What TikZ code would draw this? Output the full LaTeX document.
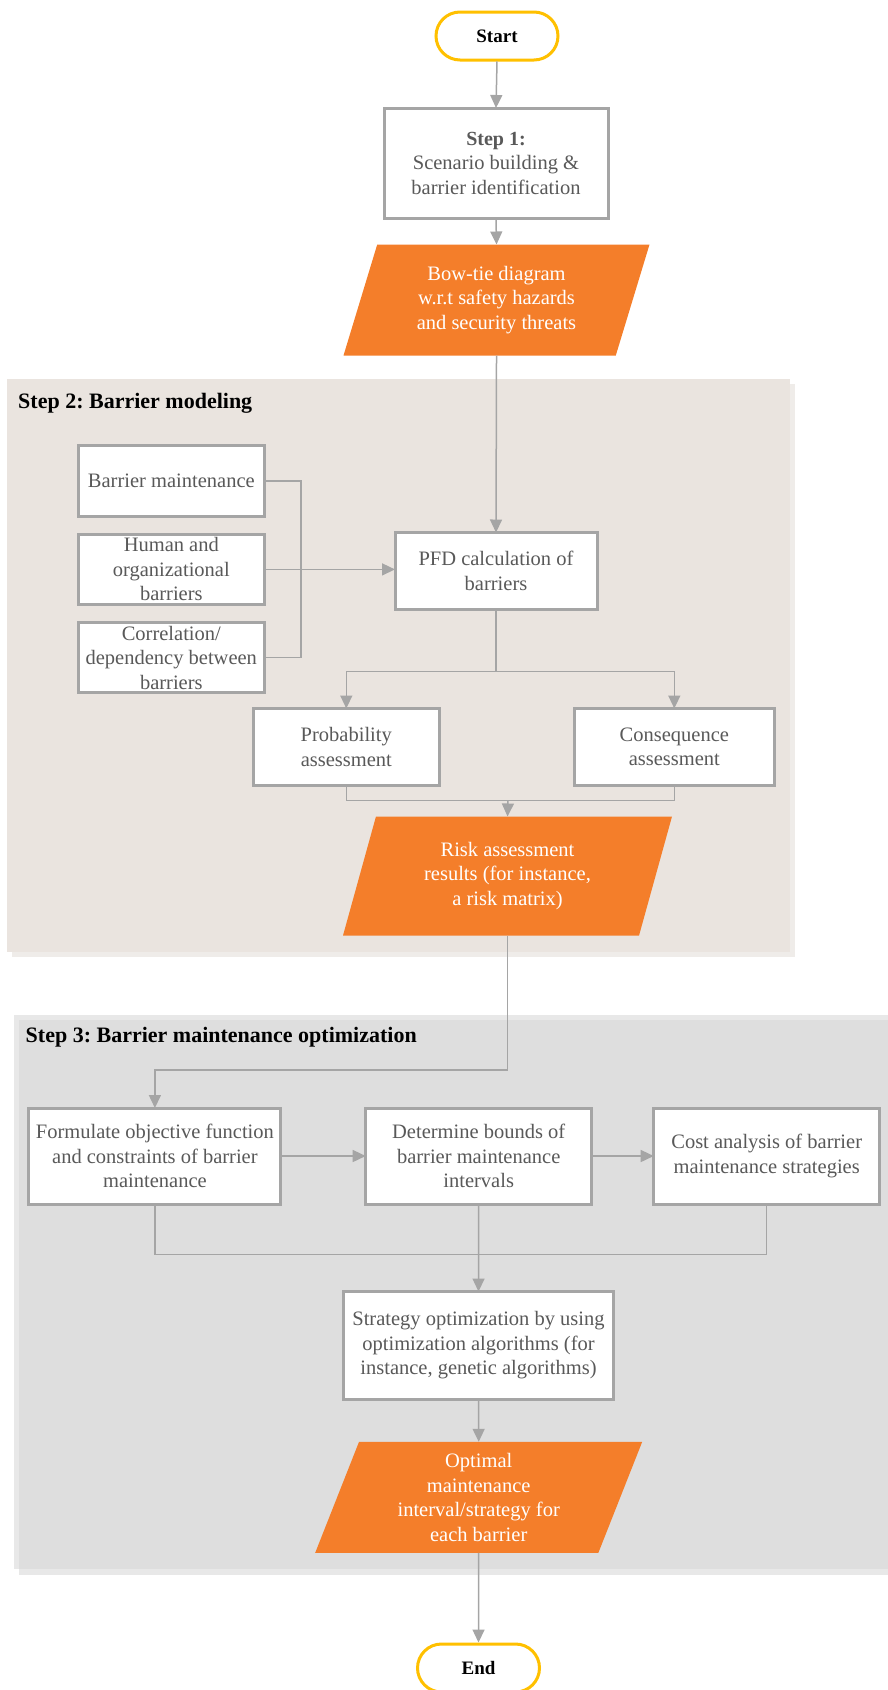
\documentclass[tikz,border=0pt]{standalone}
\usepackage{fontspec}
\setmainfont{Liberation Serif}
\usetikzlibrary{arrows.meta,shapes.geometric,calc}
\definecolor{boxgray}{HTML}{A5A5A5}
\definecolor{txtgray}{HTML}{595959}
\definecolor{orng}{HTML}{F47E2A}
\definecolor{gold}{HTML}{FFC000}
\definecolor{panelA}{HTML}{EAE4DF}
\definecolor{shadowA}{HTML}{EFECE9}
\definecolor{panelB}{HTML}{DEDEDE}
\definecolor{frameB}{HTML}{E8E8E8}
\frenchspacing
\tikzset{
  txt/.style={font=\fontsize{20.5}{24.5}\selectfont},
  proc/.style={txt, draw=boxgray, line width=3pt, fill=white, text=txtgray, align=center, inner sep=0pt, outer sep=0pt},
  term/.style={draw=gold, line width=3pt, fill=white, rounded corners=24pt, minimum width=122pt, minimum height=48pt, font=\fontsize{19}{22}\selectfont\bfseries, inner sep=0pt},
  datap/.style={txt, trapezium, trapezium left angle=63.5, trapezium right angle=116.5, trapezium stretches body, fill=orng, text=white, align=center, inner sep=0pt, outer sep=0pt},
  title/.style={font=\fontsize{22}{26}\selectfont\bfseries, anchor=west, inner sep=0pt},
  conn/.style={draw=boxgray, line width=1.5pt},
  arr/.style={conn, -{Triangle[length=13pt,width=12pt]}}
}
\begin{document}
\begin{tikzpicture}[x=1pt,y=-1pt]
\useasboundingbox (0,0) rectangle (888,1690);
% panels
\fill[shadowA] (12,384) rectangle (795,957);
\fill[panelA] (7,379) rectangle (790,952);
\fill[frameB] (14,1015) rectangle (892,1569);
\fill[frameB] (19,1020) rectangle (892,1575);
\fill[panelB] (19,1020) rectangle (892,1569);
\node[title] (t2) at (18,403) {Step 2: Barrier modeling};
\node[title] (t3) at (25.5,1037) {Step 3: Barrier maintenance optimization};
% nodes
\node[term] (start) at (497,36) {Start};
\node[proc, minimum width=224pt, minimum height=110pt] (step1) at (496,163) {\textcolor{txtgray}{\fontsize{20}{24.5}\selectfont\bfseries Step 1:}\\Scenario building \&\\barrier identification};
\node[datap, minimum width=306pt, minimum height=111pt] (bow) at (496.5,300) {Bow-tie diagram\\w.r.t safety hazards\\and security threats};
\node[proc, minimum width=202pt, minimum height=77pt] (pfd) at (496,571) {PFD calculation of\\barriers};
\node[proc, minimum width=186pt, minimum height=71pt] (bm) at (171.3,481) {Barrier maintenance};
\node[proc, minimum width=186pt, minimum height=70pt] (hum) at (171.3,569.4) {Human and\\organizational\\barriers};
\node[proc, minimum width=186pt, minimum height=70pt] (cor) at (171.3,657.7) {Correlation/\\dependency between\\barriers};
\node[proc, minimum width=186pt, minimum height=77pt] (prob) at (346.3,747) {Probability\\assessment};
\node[proc, minimum width=200pt, minimum height=77pt] (cons) at (674.3,747) {Consequence\\assessment};
\node[datap, trapezium left angle=64, trapezium right angle=116, minimum width=329pt, minimum height=119pt] (risk) at (507.5,876) {Risk assessment\\results (for instance,\\a risk matrix)};
\node[proc, minimum width=252pt, minimum height=96pt] (form) at (154.9,1156) {Formulate objective function\\and constraints of barrier\\maintenance};
\node[proc, minimum width=226pt, minimum height=96pt] (det) at (478.7,1156) {Determine bounds of\\barrier maintenance\\intervals};
\node[proc, minimum width=226pt, minimum height=96pt] (cost) at (766.7,1156) {Cost analysis of barrier\\maintenance strategies};
\node[proc, minimum width=270pt, minimum height=108pt] (strat) at (478.5,1345.5) {Strategy optimization by using\\optimization algorithms (for\\instance, genetic algorithms)};
\node[datap, minimum width=327pt, minimum height=111pt] (opt) at (478.7,1497.3) {Optimal\\maintenance\\interval/strategy for\\each barrier};
\node[term] (endn) at (478.5,1668) {End};
% connectors
\draw[arr] (start.south) -- (step1.north);
\draw[arr] (step1.south) -- (bow.north);
\draw[arr] (bow.south) -- (pfd.north);
\coordinate (jx) at (301,569);
\draw[conn] (bm.east) -| (jx) |- (cor.east);
\draw[arr] (hum.east) -- (hum.east -| pfd.west);
\coordinate (split) at (pfd.south |- 0,671.6);
\draw[conn] (pfd.south) -- (split);
\draw[arr] (split) -| (prob.north);
\draw[arr] (split) -| (cons.north);
\coordinate (merge) at (508,800.5);
\draw[conn] (prob.south) |- (cons.south |- merge) -- (cons.south);
\draw[arr] (merge) -- (risk.north);
\coordinate (turn) at (risk.south |- 0,1070);
\draw[arr] (risk.south) -- (turn) -| (form.north);
\draw[arr] (form.east) -- (det.west);
\draw[arr] (det.east) -- (cost.west);
\coordinate (merge2) at (cost.south |- 0,1254.4);
\draw[conn] (form.south) |- (merge2) -- (cost.south);
\draw[arr] (det.south) -- (strat.north);
\draw[arr] (strat.south) -- (opt.north);
\draw[arr] (opt.south) -- (endn.north);
\end{tikzpicture}
\end{document}
